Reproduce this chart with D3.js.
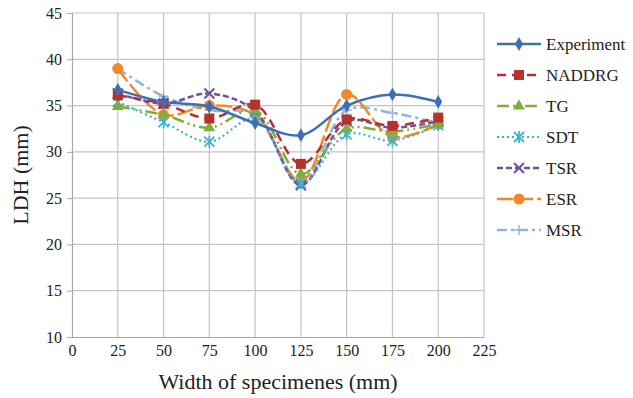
<!DOCTYPE html>
<html>
<head>
<meta charset="utf-8">
<script src="https://cdn.jsdelivr.net/npm/d3@7"></script>
<style>
  body { margin: 0; background: #fff; }
</style>
</head>
<body>
<div id="chart"></div>
<script>
const WIDTH = 633;
const HEIGHT = 398;
const FONT = "'Liberation Serif', 'DejaVu Serif', 'Times New Roman', serif";

// widths of specimens (x)
const widths = [25, 50, 75, 100, 125, 150, 175, 200];
const xTicks = [0, 25, 50, 75, 100, 125, 150, 175, 200, 225];
const yTicks = [10, 15, 20, 25, 30, 35, 40, 45];

// LDH values per series
const experiment = [36.7, 35.4, 34.9, 33.1, 31.8, 35.0, 36.2, 35.4];
const naddrg     = [36.1, 35.2, 33.6, 35.1, 28.7, 33.5, 32.8, 33.7];
const tg         = [34.9, 34.0, 32.6, 34.5, 27.6, 32.5, 32.2, 33.0];
const sdt        = [35.4, 33.2, 31.1, 33.6, 26.6, 31.9, 31.2, 32.9];
const tsr        = [36.3, 35.2, 36.3, 34.4, 26.4, 33.3, 32.6, 33.3];
const esr        = [39.0, 34.0, 35.0, 34.0, 26.8, 36.2, 31.6, 33.0];
const msr        = [39.0, 36.0, 34.5, 34.0, 26.5, 34.5, 34.2, 33.1];

const seriesNames = ['Experiment', 'NADDRG', 'TG', 'SDT', 'TSR', 'ESR', 'MSR'];
const seriesValues = [experiment, naddrg, tg, sdt, tsr, esr, msr];

// look of each series
const styles = [
  {color: '#3d6fb6', dash: null,              marker: 'diamond'},
  {color: '#b8322d', dash: '9,6',             marker: 'square'},
  {color: '#7fae3c', dash: '12,4,2,4,2,4',    marker: 'triangle'},
  {color: '#3fb3c9', dash: '2,3',             marker: 'asterisk'},
  {color: '#7150a0', dash: '6,3',             marker: 'cross'},
  {color: '#f0892a', dash: '16,4',            marker: 'circle'},
  {color: '#93b2dc', dash: '10,4,3,4',        marker: 'plus'}
];

const margin = {left: 72, top: 13, right: 149, bottom: 61};

const X_SCALE = d3.scaleLinear()
  .domain([0, 225])
  .range([margin.left, WIDTH - margin.right]);
const Y_SCALE = d3.scaleLinear()
  .domain([10, 45])
  .range([HEIGHT - margin.bottom, margin.top]);

let svg = d3.select('#chart')
  .append('svg')
  .attr('width', WIDTH)
  .attr('height', HEIGHT);

// gridlines
svg.append('g')
  .selectAll('line')
  .data(yTicks.slice(1))
  .enter()
  .append('line')
  .attr('x1', X_SCALE(0))
  .attr('x2', X_SCALE(225))
  .attr('y1', d => Y_SCALE(d))
  .attr('y2', d => Y_SCALE(d))
  .attr('stroke', '#c4c4c4')
  .attr('stroke-width', 1.2);

svg.append('g')
  .selectAll('line')
  .data(xTicks.slice(1))
  .enter()
  .append('line')
  .attr('x1', d => X_SCALE(d))
  .attr('x2', d => X_SCALE(d))
  .attr('y1', Y_SCALE(10))
  .attr('y2', Y_SCALE(45))
  .attr('stroke', '#c4c4c4')
  .attr('stroke-width', 1.2);

// axes
const X_AXIS = d3.axisBottom(X_SCALE).tickValues(xTicks).tickSize(0).tickPadding(8);
const Y_AXIS = d3.axisLeft(Y_SCALE).tickValues(yTicks).tickSize(5).tickPadding(5);

let gx = svg.append('g')
  .attr('transform', 'translate(0,' + Y_SCALE(10) + ')')
  .call(X_AXIS);
let gy = svg.append('g')
  .attr('transform', 'translate(' + X_SCALE(0) + ',0)')
  .call(Y_AXIS);

[gx, gy].forEach(g => {
  g.attr('font-family', null).attr('font-size', null);
  g.select('.domain').attr('stroke', '#a8a8a8').attr('stroke-width', 1.2);
  g.selectAll('.tick line').attr('stroke', '#a8a8a8');
  g.selectAll('text')
    .style('font-family', FONT)
    .style('font-size', '16px')
    .attr('fill', '#222');
});

// axis titles
svg.append('text')
  .attr('x', 278)
  .attr('y', 389)
  .attr('text-anchor', 'middle')
  .style('font-family', FONT)
  .style('font-size', '22px')
  .attr('fill', '#222')
  .text('Width of specimenes (mm)');

svg.append('text')
  .attr('transform', 'translate(28,' + 175 + ') rotate(-90)')
  .attr('text-anchor', 'middle')
  .style('font-family', FONT)
  .style('font-size', '22px')
  .attr('fill', '#222')
  .text('LDH (mm)');

// marker drawing
function drawMarker(g, type, color) {
  if (type === 'diamond') {
    g.append('path').attr('d', d3.symbol(d3.symbolDiamond, 55)()).attr('fill', color);
  } else if (type === 'square') {
    g.append('rect').attr('x', -5).attr('y', -5).attr('width', 10).attr('height', 10).attr('fill', color);
  } else if (type === 'triangle') {
    g.append('path').attr('d', d3.symbol(d3.symbolTriangle, 60)()).attr('fill', color);
  } else if (type === 'circle') {
    g.append('circle').attr('r', 5.5).attr('fill', color);
  } else if (type === 'asterisk') {
    g.append('path').attr('d', 'M-5,-5L5,5M-5,5L5,-5M0,-6L0,6')
      .attr('stroke', color).attr('stroke-width', 1.8);
  } else if (type === 'cross') {
    g.append('path').attr('d', 'M-5,-5L5,5M-5,5L5,-5')
      .attr('stroke', color).attr('stroke-width', 2);
  } else if (type === 'plus') {
    g.append('path').attr('d', 'M-5,0L5,0M0,-5L0,5')
      .attr('stroke', color).attr('stroke-width', 1.5);
  }
}

const line = d3.line()
  .x((d, i) => X_SCALE(widths[i]))
  .y(d => Y_SCALE(d))
  .curve(d3.curveCatmullRom.alpha(0.5));

// draw series, back to front so Experiment sits on top
for (let s = seriesValues.length - 1; s >= 0; s--) {
  const st = styles[s];
  const g = svg.append('g');
  g.append('path')
    .datum(seriesValues[s])
    .attr('d', line)
    .attr('fill', 'none')
    .attr('stroke', st.color)
    .attr('stroke-width', s === 3 ? 2.2 : 2.5)
    .attr('stroke-dasharray', st.dash);
  seriesValues[s].forEach((v, i) => {
    const m = g.append('g')
      .attr('transform', 'translate(' + X_SCALE(widths[i]) + ',' + Y_SCALE(v) + ')');
    drawMarker(m, st.marker, st.color);
  });
}

// legend
const legend = svg.append('g');
seriesNames.forEach((name, i) => {
  const st = styles[i];
  const y = 44 + i * 31;
  legend.append('line')
    .attr('x1', 497).attr('x2', 541)
    .attr('y1', y).attr('y2', y)
    .attr('stroke', st.color)
    .attr('stroke-width', i === 3 ? 2.2 : 2.5)
    .attr('stroke-dasharray', st.dash);
  const m = legend.append('g').attr('transform', 'translate(519,' + y + ')');
  drawMarker(m, st.marker, st.color);
  legend.append('text')
    .attr('x', 546)
    .attr('y', y + 5.5)
    .style('font-family', FONT)
    .style('font-size', '17px')
    .attr('fill', '#222')
    .text(name);
});
</script>
</body>
</html>
